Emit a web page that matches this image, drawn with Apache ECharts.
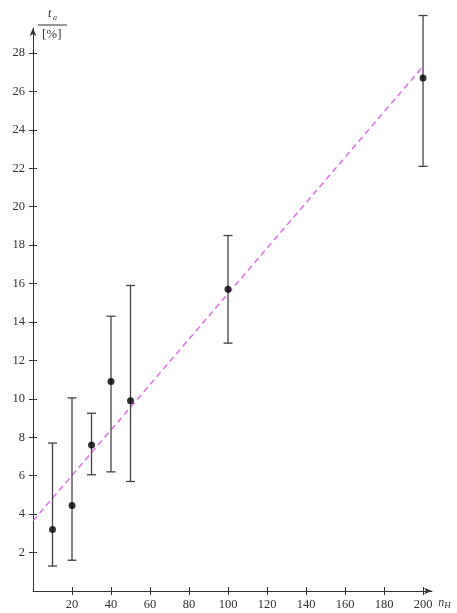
<!DOCTYPE html>
<html>
<head>
<meta charset="utf-8">
<script src="https://cdn.jsdelivr.net/npm/echarts@6/dist/echarts.min.js"></script>
<style>
html,body{margin:0;padding:0;background:#fff;}
#chart{width:457px;height:613px;}
</style>
</head>
<body>
<div id="chart"></div>
<script>
// Data
const xValues = [10, 20, 30, 40, 50, 100, 200];
const meanValues = [3.2, 4.45, 7.6, 10.9, 9.9, 15.7, 26.7];
const lowValues = [1.3, 1.6, 6.05, 6.2, 5.7, 12.9, 22.1];
const highValues = [7.7, 10.05, 9.25, 14.3, 15.9, 18.5, 29.95];
const fitX = [0, 200];
const fitY = [3.65, 27.3];
const xTicks = [20, 40, 60, 80, 100, 120, 140, 160, 180, 200];
const yTicks = [2, 4, 6, 8, 10, 12, 14, 16, 18, 20, 22, 24, 26, 28];

const serif = 'Liberation Serif';
const chart = echarts.init(document.getElementById('chart'));

const points = xValues.map((x, i) => [x, meanValues[i]]);
const errData = xValues.map((x, i) => [x, lowValues[i], highValues[i]]);
const fitData = fitX.map((x, i) => [x, fitY[i]]);

const option = {
  animation: false,
  backgroundColor: '#fff',
  grid: { left: 33, right: 25, top: 28, bottom: 22 },
  xAxis: [{
    type: 'value', min: 0, max: 204.6,
    axisLine: { show: true, symbol: ['none', 'arrow'], symbolSize: [5, 8], lineStyle: { color: '#333', width: 1 } },
    axisTick: { show: true, customValues: xTicks, length: 4, lineStyle: { color: '#333' } },
    axisLabel: { customValues: xTicks, color: '#333', fontFamily: serif, fontSize: 12.5, margin: 7 },
    splitLine: { show: false },
    name: '{n|n}{s|H}', nameLocation: 'end', nameGap: 6,
    nameTextStyle: { verticalAlign: 'top', padding: [4, 0, 0, 0],
      rich: { n: { fontFamily: serif, fontStyle: 'italic', fontSize: 12, color: '#333' },
              s: { fontFamily: serif, fontStyle: 'italic', fontSize: 9, color: '#333', verticalAlign: 'bottom', padding: [6, 0, 0, 0] } } }
  }, {
    type: 'value', min: 0, max: 204.6, position: 'bottom',
    axisLine: { show: false },
    axisTick: { show: true, inside: true, customValues: xTicks, length: 4, lineStyle: { color: '#333' } },
    axisLabel: { show: false, customValues: xTicks },
    splitLine: { show: false }
  }],
  yAxis: [{
    type: 'value', min: 0, max: 29.3,
    axisLine: { show: true, symbol: ['none', 'arrow'], symbolSize: [5, 8], lineStyle: { color: '#333', width: 1 } },
    axisTick: { show: true, customValues: yTicks, length: 4, lineStyle: { color: '#333' } },
    axisLabel: { customValues: yTicks, color: '#333', fontFamily: serif, fontSize: 12.5, margin: 8 },
    splitLine: { show: false }
  }, {
    type: 'value', min: 0, max: 29.3, position: 'left',
    axisLine: { show: false },
    axisTick: { show: true, inside: true, customValues: yTicks, length: 4, lineStyle: { color: '#333' } },
    axisLabel: { show: false, customValues: yTicks },
    splitLine: { show: false }
  }],
  graphic: [
    { type: 'text', left: 48, top: 8, style: { text: 't', font: 'italic 12px "Liberation Serif"', fill: '#333' } },
    { type: 'text', left: 53, top: 14, style: { text: 'a', font: 'italic 8px "Liberation Serif"', fill: '#333' } },
    { type: 'line', shape: { x1: 38, y1: 25, x2: 67, y2: 25 }, style: { stroke: '#333', lineWidth: 1 } },
    { type: 'text', left: 42, top: 28, style: { text: '[%]', font: '13px "Liberation Serif"', fill: '#333' } }
  ],
  series: [
    {
      type: 'line', data: fitData, symbol: 'none', z: 1,
      lineStyle: { color: '#e070e8', width: 1.5, type: [6, 4] }
    },
    {
      type: 'custom', data: errData, z: 2,
      renderItem: function (params, api) {
        const x = api.value(0);
        const lo = api.coord([x, api.value(1)]);
        const hi = api.coord([x, api.value(2)]);
        const hw = 4.5;
        const st = { stroke: '#444', lineWidth: 1.3 };
        return {
          type: 'group', children: [
            { type: 'line', shape: { x1: lo[0], y1: lo[1], x2: hi[0], y2: hi[1] }, style: st },
            { type: 'line', shape: { x1: lo[0] - hw, y1: lo[1], x2: lo[0] + hw, y2: lo[1] }, style: st },
            { type: 'line', shape: { x1: hi[0] - hw, y1: hi[1], x2: hi[0] + hw, y2: hi[1] }, style: st }
          ]
        };
      }
    },
    {
      type: 'scatter', data: points, symbol: 'circle', symbolSize: 7, z: 3,
      itemStyle: { color: '#000' }
    }
  ]
};
chart.setOption(option);
</script>
</body>
</html>
